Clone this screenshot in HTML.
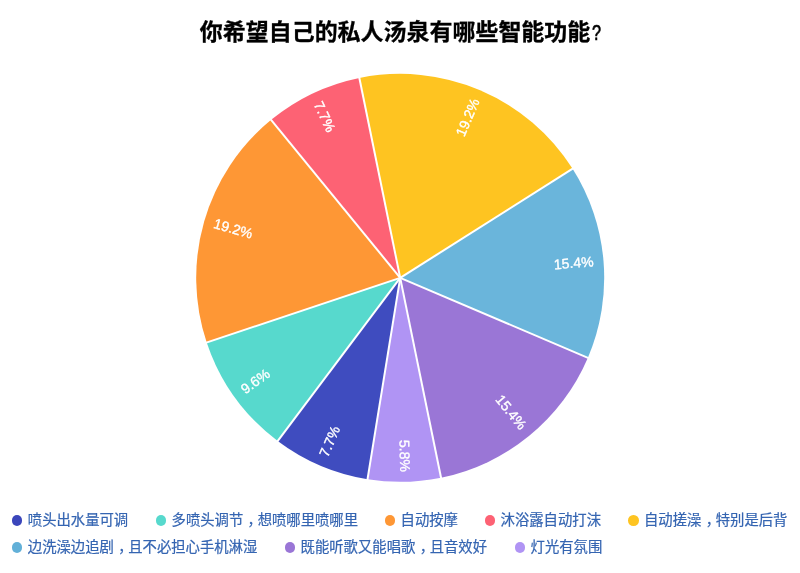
<!DOCTYPE html>
<html lang="zh-CN"><head><meta charset="utf-8"><title>你希望自己的私人汤泉有哪些智能功能?</title>
<style>
html,body{margin:0;padding:0;background:#fff;}
body{width:800px;height:573px;position:relative;overflow:hidden;font-family:"Liberation Sans","Noto Sans CJK SC",sans-serif;}
.pie{position:absolute;left:0;top:0;}
h1{position:absolute;left:199.8px;top:15.3px;margin:0;font-size:22.98px;line-height:34px;font-weight:bold;color:#000;white-space:nowrap;letter-spacing:0;-webkit-text-stroke:0.3px #000;}
h1 .q{display:inline-block;font-weight:normal;font-size:22.5px;-webkit-text-stroke:0.7px #000;transform:scaleX(0.72);transform-origin:0 50%;margin-left:2.2px;}
.dot{position:absolute;width:10.6px;height:10.6px;border-radius:50%;}
.lt{position:absolute;font-size:14.35px;line-height:20px;color:#3565B2;white-space:nowrap;-webkit-text-stroke:0.22px #3565B2;}
.cm{position:relative;left:4.3px;}
</style></head><body>
<svg class="pie" width="800" height="573" viewBox="0 0 800 573">
<g stroke="none">
<path d="M400.2 277.85L359.35 77.98A204.0 204.0 0 0 1 572.60 168.78Z" fill="#FEC421"/>
<path d="M400.2 277.85L572.60 168.78A204.0 204.0 0 0 1 587.89 357.77Z" fill="#6AB5DB"/>
<path d="M400.2 277.85L587.89 357.77A204.0 204.0 0 0 1 441.05 477.72Z" fill="#9A76D6"/>
<path d="M400.2 277.85L441.05 477.72A204.0 204.0 0 0 1 367.52 479.21Z" fill="#B094F4"/>
<path d="M400.2 277.85L367.52 479.21A204.0 204.0 0 0 1 277.68 440.96Z" fill="#3F4CBF"/>
<path d="M400.2 277.85L277.68 440.96A204.0 204.0 0 0 1 206.71 342.49Z" fill="#57D9CD"/>
<path d="M400.2 277.85L206.71 342.49A204.0 204.0 0 0 1 271.15 119.86Z" fill="#FE9735"/>
<path d="M400.2 277.85L271.15 119.86A204.0 204.0 0 0 1 359.35 77.98Z" fill="#FD6274"/>
</g>
<g stroke="#fff" stroke-width="2.0" stroke-linecap="butt">
<line x1="400.2" y1="277.85" x2="358.95" y2="76.02"/>
<line x1="400.2" y1="277.85" x2="574.29" y2="167.71"/>
<line x1="400.2" y1="277.85" x2="589.73" y2="358.56"/>
<line x1="400.2" y1="277.85" x2="441.45" y2="479.68"/>
<line x1="400.2" y1="277.85" x2="367.20" y2="481.19"/>
<line x1="400.2" y1="277.85" x2="276.48" y2="442.56"/>
<line x1="400.2" y1="277.85" x2="204.81" y2="343.12"/>
<line x1="400.2" y1="277.85" x2="269.88" y2="118.31"/>
</g>
<g fill="#fff" stroke="#fff" stroke-width="0.35" font-family="'Liberation Sans',sans-serif" font-size="14">
<text text-anchor="end" x="476.21" y="103.36" transform="rotate(-66.93 476.21 99.36)">19.2%</text>
<text text-anchor="end" x="593.57" y="266.20" transform="rotate(-4.63 593.57 262.20)">15.4%</text>
<text text-anchor="end" x="522.92" y="432.10" transform="rotate(50.76 522.92 428.10)">15.4%</text>
<text text-anchor="end" x="404.15" y="475.81" transform="rotate(88.83 404.15 471.81)">5.8%</text>
<text text-anchor="start" x="324.19" y="460.34" transform="rotate(-66.93 324.19 456.34)">7.7%</text>
<text text-anchor="start" x="242.82" y="395.28" transform="rotate(-35.78 242.82 391.28)">9.6%</text>
<text text-anchor="start" x="213.85" y="227.91" transform="rotate(16.14 213.85 223.91)">19.2%</text>
<text text-anchor="start" x="317.00" y="106.60" transform="rotate(64.60 317.00 102.60)">7.7%</text>
</g>
</svg>
<h1>你希望自己的私人汤泉有哪些智能功能<span class="q">?</span></h1>
<span class="dot" style="left:11.9px;top:515.4px;background:#3B46BB"></span><span class="lt" style="left:27.8px;top:510.4px">喷头出水量可调</span>
<span class="dot" style="left:155.7px;top:515.4px;background:#57D9CD"></span><span class="lt" style="left:171.6px;top:510.4px">多喷头调节<span class="cm">，</span>想喷哪里喷哪里</span>
<span class="dot" style="left:384.7px;top:515.4px;background:#FE9735"></span><span class="lt" style="left:400.6px;top:510.4px">自动按摩</span>
<span class="dot" style="left:484.7px;top:515.4px;background:#FD6274"></span><span class="lt" style="left:500.6px;top:510.4px">沐浴露自动打沫</span>
<span class="dot" style="left:628.1px;top:515.4px;background:#FEC421"></span><span class="lt" style="left:644.0px;top:510.4px">自动搓澡<span class="cm">，</span>特别是后背</span>
<span class="dot" style="left:11.9px;top:542.3px;background:#62B0D8"></span><span class="lt" style="left:27.8px;top:537.3px">边洗澡边追剧<span class="cm">，</span>且不必担心手机淋湿</span>
<span class="dot" style="left:284.7px;top:542.3px;background:#9A76D6"></span><span class="lt" style="left:300.6px;top:537.3px">既能听歌又能唱歌<span class="cm">，</span>且音效好</span>
<span class="dot" style="left:514.7px;top:542.3px;background:#B094F4"></span><span class="lt" style="left:530.6px;top:537.3px">灯光有氛围</span>
</body></html>
